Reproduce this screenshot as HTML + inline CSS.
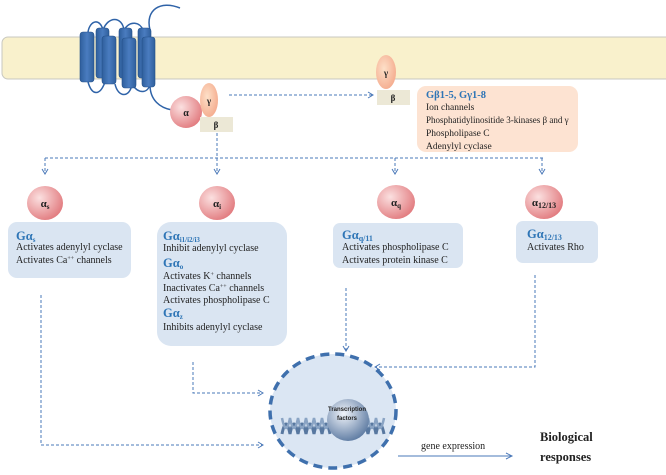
<!DOCTYPE html>
<html><head><meta charset="utf-8"><style>
body{margin:0;background:#fff}
svg{display:block}
text{font-family:"Liberation Serif",serif;fill:#222}
.b{fill:#2e75b6;font-weight:bold}
.d{stroke:#4a78b8;stroke-width:1;stroke-dasharray:3,2;fill:none}
.a{stroke:#4a78b8;stroke-width:1;fill:none}
</style></head><body>
<svg width="666" height="475" viewBox="0 0 666 475">
<defs>
<radialGradient id="pk" cx="35%" cy="35%" r="70%"><stop offset="0" stop-color="#fbe0e0"/><stop offset="1" stop-color="#e27c80"/></radialGradient>
<radialGradient id="or" cx="40%" cy="40%" r="70%"><stop offset="0" stop-color="#fde0c8"/><stop offset="1" stop-color="#f4a88a"/></radialGradient>
<radialGradient id="sp" cx="40%" cy="35%" r="70%"><stop offset="0" stop-color="#f0f4fa"/><stop offset="1" stop-color="#5a78a0"/></radialGradient>
<linearGradient id="cy" x1="0" x2="1"><stop offset="0" stop-color="#2f5f9c"/><stop offset="0.5" stop-color="#4a7cc0"/><stop offset="1" stop-color="#2f5f9c"/></linearGradient>
</defs>
<rect x="2" y="37" width="680" height="42" rx="6" fill="#f9f1cc" stroke="#c8c8c0"/>
<path d="M88,32 C90,20 100,18 103,30 M103,30 C108,16 122,16 124,30 M124,30 C130,20 140,22 143,30 M150,30 C145,10 160,0 180,8 M150,85 C150,100 160,108 172,110 M88,82 C92,96 100,96 105,82 M115,84 C118,98 130,98 132,84 M132,84 C138,94 148,94 150,84" stroke="#2f63a8" stroke-width="1.5" fill="none"/>
<g fill="url(#cy)" stroke="#24518a" stroke-width="0.6">
<rect x="80" y="32" width="14" height="50" rx="3"/><rect x="96" y="28" width="13" height="50" rx="3"/>
<rect x="102" y="36" width="14" height="48" rx="3"/><rect x="119" y="28" width="13" height="50" rx="3"/>
<rect x="122" y="38" width="14" height="50" rx="3"/><rect x="138" y="28" width="13" height="50" rx="3"/><rect x="142" y="37" width="13" height="50" rx="3"/>
</g>
<circle cx="186" cy="112" r="16" fill="url(#pk)"/>
<text x="186" y="116" font-size="10" font-weight="bold" text-anchor="middle">α</text>
<ellipse cx="209" cy="100" rx="9" ry="17" fill="url(#or)"/>
<text x="209" y="104" font-size="9" font-weight="bold" text-anchor="middle">γ</text>
<rect x="200" y="117" width="33" height="15" fill="#ece8d6"/>
<text x="216" y="128" font-size="9" font-weight="bold" text-anchor="middle">β</text>
<line x1="229" y1="95" x2="372" y2="95" class="d"/><path d="M368,92 L373,95 L368,98" class="a"/>
<ellipse cx="386" cy="72" rx="10" ry="17" fill="url(#or)"/>
<text x="386" y="76" font-size="9" font-weight="bold" text-anchor="middle">γ</text>
<rect x="377" y="90" width="33" height="15" fill="#ece8d6"/>
<text x="393" y="101" font-size="9" font-weight="bold" text-anchor="middle">β</text>
<rect x="417" y="86" width="161" height="66" rx="9" fill="#fde3d2"/>
<text x="426" y="98" font-size="10.5" class="b">Gβ1-5, Gγ1-8</text>
<text font-size="9.5"><tspan x="426" y="110">Ion channels</tspan><tspan x="426" y="123" font-size="9">Phosphatidylinositide 3-kinases β and γ</tspan><tspan x="426" y="136">Phospholipase C</tspan><tspan x="426" y="149">Adenylyl cyclase</tspan></text>
<line x1="217" y1="133" x2="217" y2="172" class="d"/>
<line x1="45" y1="158" x2="543" y2="158" class="d"/>
<g class="d"><line x1="45" y1="158" x2="45" y2="172"/><line x1="395" y1="158" x2="395" y2="172"/><line x1="542" y1="158" x2="542" y2="172"/></g>
<g class="a"><path d="M42,169 L45,174 L48,169"/><path d="M214,169 L217,174 L220,169"/><path d="M392,169 L395,174 L398,169"/><path d="M539,169 L542,174 L545,169"/></g>
<g fill="url(#pk)"><ellipse cx="45" cy="203" rx="18" ry="17"/><ellipse cx="217" cy="203" rx="18" ry="17"/><ellipse cx="396" cy="202" rx="19" ry="17"/><ellipse cx="544" cy="202" rx="19" ry="17"/></g>
<g font-size="11" font-weight="bold" text-anchor="middle"><text x="45" y="207">α<tspan font-size="7" dy="2">s</tspan></text><text x="217" y="207">α<tspan font-size="7" dy="2">i</tspan></text><text x="396" y="206">α<tspan font-size="7" dy="2">q</tspan></text><text x="544" y="206">α<tspan font-size="8" dy="2">12/13</tspan></text></g>
<g fill="#dae5f2"><rect x="8" y="222" width="123" height="56" rx="9"/><rect x="157" y="222" width="130" height="124" rx="14"/><rect x="333" y="223" width="130" height="45" rx="7"/><rect x="516" y="221" width="82" height="42" rx="7"/></g>
<text x="16" y="240" font-size="12.5" class="b">Gα<tspan font-size="7" dy="2">s</tspan></text>
<text font-size="10"><tspan x="16" y="250">Activates adenylyl cyclase</tspan><tspan x="16" y="263">Activates Ca<tspan font-size="6" dy="-3">++</tspan><tspan dy="3"> channels</tspan></tspan></text>
<text x="163" y="240" font-size="12.5" class="b">Gα<tspan font-size="7" dy="2">i1/i2/i3</tspan></text>
<text x="163" y="251" font-size="10">Inhibit adenylyl cyclase</text>
<text x="163" y="267" font-size="12.5" class="b">Gα<tspan font-size="7" dy="2">o</tspan></text>
<text font-size="10"><tspan x="163" y="279">Activates K<tspan font-size="6" dy="-3">+</tspan><tspan dy="3"> channels</tspan></tspan><tspan x="163" y="291">Inactivates Ca<tspan font-size="6" dy="-3">++</tspan><tspan dy="3"> channels</tspan></tspan><tspan x="163" y="303">Activates phospholipase C</tspan></text>
<text x="163" y="317" font-size="12.5" class="b">Gα<tspan font-size="7" dy="2">z</tspan></text>
<text x="163" y="330" font-size="10">Inhibits adenylyl cyclase</text>
<text x="342" y="239" font-size="12.5" class="b">Gα<tspan font-size="8" dy="2">q/11</tspan></text>
<text font-size="10"><tspan x="342" y="250">Activates phospholipase C</tspan><tspan x="342" y="263">Activates protein kinase C</tspan></text>
<text x="527" y="238" font-size="12.5" class="b">Gα<tspan font-size="8" dy="2">12/13</tspan></text>
<text x="527" y="250" font-size="10">Activates Rho</text>
<path d="M41,295 V445 H262" class="d"/><path d="M258,442 L263,445 L258,448" class="a"/>
<path d="M193,362 V393 H262" class="d"/><path d="M258,390 L263,393 L258,396" class="a"/>
<line x1="346" y1="288" x2="346" y2="350" class="d"/><path d="M343,346 L346,351 L349,346" class="a"/>
<path d="M535,275 V367 H376" class="d"/><path d="M380,364 L375,367 L380,370" class="a"/>
<ellipse cx="333" cy="411" rx="63" ry="57" fill="#dbe6f3" stroke="#3f70ad" stroke-width="3.5" stroke-dasharray="9,6"/>
<path d="M282,434 Q286,414 290,434 Q294,414 298,434 Q302,414 306,434 Q310,414 314,434 Q318,414 322,434 Q326,414 330,434 M360,434 Q364,414 368,434 Q372,414 376,434 Q380,414 384,434" stroke="#5878a0" stroke-width="3" fill="none"/>
<path d="M282,418 Q286,438 290,418 Q294,438 298,418 Q302,438 306,418 Q310,438 314,418 Q318,438 322,418 Q326,438 330,418 M360,418 Q364,438 368,418 Q372,438 376,418 Q380,438 384,418" stroke="#8aa4c4" stroke-width="2.5" fill="none"/>
<circle cx="348" cy="420" r="21" fill="url(#sp)"/>
<text x="347" y="411" font-size="6" text-anchor="middle" font-weight="bold" style="font-family:'Liberation Sans',sans-serif">Transcription</text>
<text x="347" y="420" font-size="6" text-anchor="middle" font-weight="bold" style="font-family:'Liberation Sans',sans-serif">factors</text>
<line x1="398" y1="456" x2="511" y2="456" class="a"/><path d="M506,453 L512,456 L506,459" class="a"/>
<text x="421" y="449" font-size="10">gene expression</text>
<text font-size="12.5" font-weight="bold"><tspan x="540" y="441">Biological</tspan><tspan x="540" y="461">responses</tspan></text>
</svg>
</body></html>
